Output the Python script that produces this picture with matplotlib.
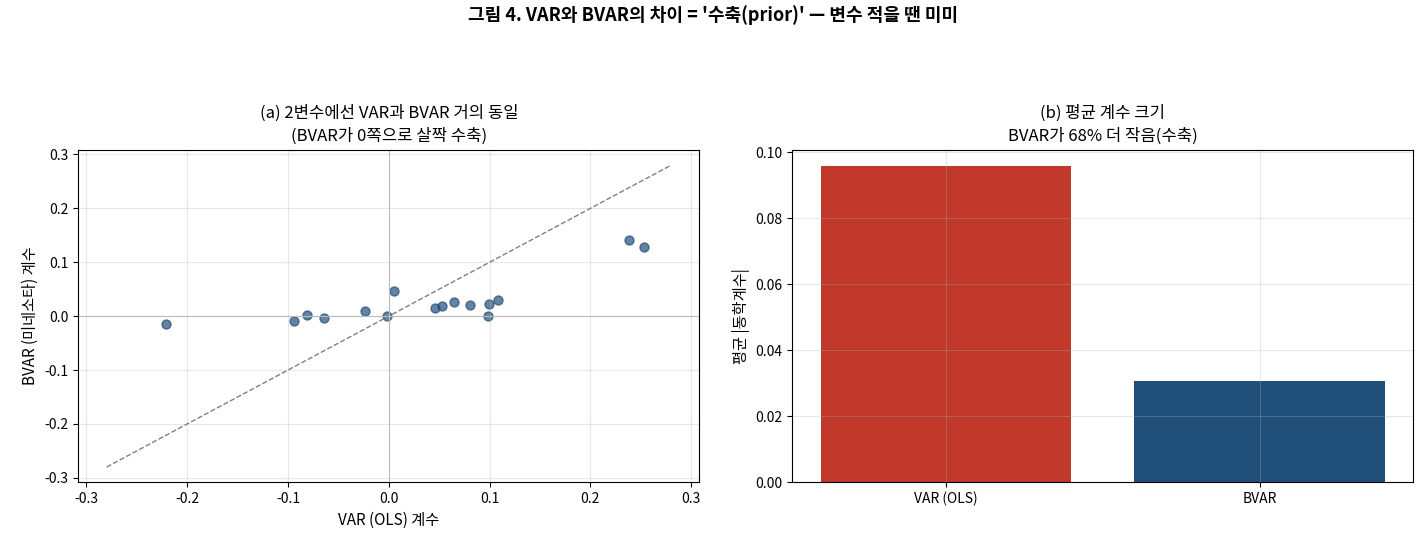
import matplotlib
matplotlib.use("Agg")
import matplotlib.pyplot as plt
import numpy as np

plt.rcParams['font.family'] = ['Noto Sans CJK KR', 'DejaVu Sans']
plt.rcParams['axes.unicode_minus'] = False

# 계수 (VAR OLS vs BVAR 미네소타)
var_coef = [-0.2216, -0.0944, -0.0816, -0.0642, -0.0236, 0.0049, -0.0020, 0.0459,
            0.0531, 0.0646, 0.0803, 0.0980, 0.0990, 0.1082, 0.2380, 0.2527]
bvar_coef = [-0.0145, -0.0091, 0.0018, -0.0036, 0.0096, 0.0460, 0.0000, 0.0145,
             0.0182, 0.0260, 0.0206, 0.0000, 0.0224, 0.0296, 0.1418, 0.1290]

bar_labels = ['VAR (OLS)', 'BVAR']
bar_values = [0.0958, 0.0307]
bar_colors = ['#c0392b', '#1f4e79']

fig, (ax1, ax2) = plt.subplots(1, 2, figsize=(14.26, 5.46), dpi=100)
fig.subplots_adjust(left=0.055, right=0.991, bottom=0.117, top=0.725, wspace=0.15)

fig.suptitle("그림 4. VAR와 BVAR의 차이 = '수축(prior)' — 변수 적을 땐 미미",
             fontsize=13, fontweight='bold', y=0.99)

# (a) 산점도
ax1.scatter(var_coef, bvar_coef, s=42, color='#1f4e79', alpha=0.7)
lim = 0.28
ax1.plot([-lim, lim], [-lim, lim], '--', color='gray', lw=1)
ax1.axhline(0, color='#bbbbbb', lw=0.8)
ax1.axvline(0, color='#bbbbbb', lw=0.8)
ax1.set_xlabel('VAR (OLS) 계수', fontsize=11)
ax1.set_ylabel('BVAR (미네소타) 계수', fontsize=11)
ax1.set_title('(a) 2변수에선 VAR과 BVAR 거의 동일\n(BVAR가 0쪽으로 살짝 수축)',
              fontsize=12, linespacing=1.4, pad=7)
ax1.grid(True, alpha=0.3)
ax1.tick_params(labelsize=10)

# (b) 평균 계수 크기
ax2.bar(bar_labels, bar_values, color=bar_colors)
ax2.set_ylabel('평균 |동학계수|', fontsize=11)
ax2.set_title('(b) 평균 계수 크기\nBVAR가 68% 더 작음(수축)',
              fontsize=12, linespacing=1.4, pad=7)
ax2.grid(True, alpha=0.3)
ax2.tick_params(labelsize=10)

fig.savefig('out.png', dpi=100)
